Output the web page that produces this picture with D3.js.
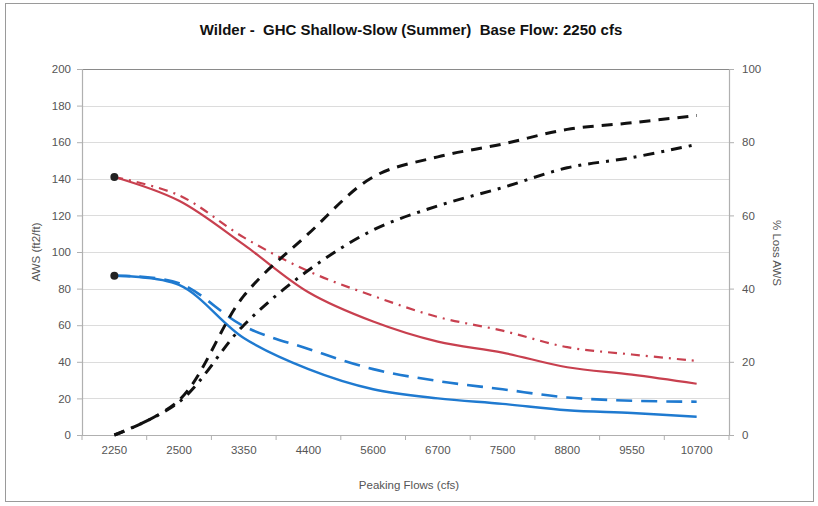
<!DOCTYPE html>
<html><head><meta charset="utf-8">
<script src="https://cdn.jsdelivr.net/npm/d3@7"></script>
<style>
html,body{margin:0;padding:0;background:#fff;}
svg{display:block;font-family:"Liberation Sans",Arial,sans-serif;}
</style></head>
<body><svg id="c" width="818" height="506"></svg>
<script>
const categories = ["2250","2500","3350","4400","5600","6700","7500","8800","9550","10700"];
const redSolid   = [141, 128, 104, 78, 62, 51, 45, 37, 33, 28];
const redDashDot = [141, 131, 108, 89.5, 76, 64.5, 57, 48, 44, 40.5];
const blueSolid  = [87, 82, 53, 36, 25, 20, 17, 13.5, 12, 10];
const blueDash   = [87, 83, 59.5, 47, 36, 29.5, 25, 20.5, 18.7, 18.2];
const lossDash    = [0, 9.5, 38, 55, 70.5, 76, 79.5, 83.5, 85.3, 87.3];
const lossDashDot = [0, 9, 30, 45, 56, 62.6, 67.6, 73, 75.8, 79.4];
const leftTicks = [0,20,40,60,80,100,120,140,160,180,200];
const rightTicks = [0,20,40,60,80,100];
const title = "Wilder -  GHC Shallow-Slow (Summer)  Base Flow: 2250 cfs";

const svg = d3.select("#c");
const L = 82, R = 729, T = 69, B = 435;

// outer frame
svg.append("rect").attr("x",5.5).attr("y",3.5).attr("width",808).attr("height",498)
  .attr("fill","none").attr("stroke","#9a9a9a").attr("stroke-width",1);

const x = d3.scaleBand().domain(categories).range([L,R]);
const yL = d3.scaleLinear().domain([0,200]).range([B,T]);
const yR = d3.scaleLinear().domain([0,100]).range([B,T]);

// gridlines
svg.append("g").selectAll("line").data(leftTicks.filter(d=>d>0 && d<200)).join("line")
  .attr("x1",L).attr("x2",R).attr("y1",d=>Math.round(yL(d))+0.5).attr("y2",d=>Math.round(yL(d))+0.5)
  .attr("stroke","#dcdcdc").attr("stroke-width",1.2);
// top border line
svg.append("line").attr("x1",L).attr("x2",R).attr("y1",Math.round(yL(200))+0.5).attr("y2",Math.round(yL(200))+0.5)
  .attr("stroke","#8a8a8a").attr("stroke-width",1.2);

// axes
const axL = d3.axisLeft(yL).tickValues(leftTicks).tickSize(5).tickPadding(6);
const gL = svg.append("g").attr("transform",`translate(${L},0)`).call(axL);
const axR = d3.axisRight(yR).tickValues(rightTicks).tickSize(5).tickPadding(8);
const gR = svg.append("g").attr("transform",`translate(${R},0)`).call(axR);
const axB = d3.axisBottom(x).tickSize(0).tickPadding(11);
const gB = svg.append("g").attr("transform",`translate(0,${B})`).call(axB);
// category boundary ticks
svg.append("g").selectAll("line").data(d3.range(categories.length+1)).join("line")
  .attr("x1",i=>L+i*x.step()).attr("x2",i=>L+i*x.step()).attr("y1",B).attr("y2",B+5)
  .attr("stroke","#b0b0b0");

[gL,gR,gB].forEach(g=>{
  g.selectAll(".domain").attr("stroke","#b0b0b0").attr("stroke-width",1.2);
  g.selectAll(".tick line").attr("stroke","#b0b0b0");
  g.selectAll("text").attr("font-size",11.5).attr("fill","#555").attr("font-family","'Liberation Sans',Arial,sans-serif");
});

// series
const cx = c => x(c) + x.bandwidth()/2;
function draw(vals, scale, color, width, dash){
  const line = d3.line().x((d,i)=>cx(categories[i])).y(d=>scale(d)).curve(d3.curveCatmullRom.alpha(0.5));
  svg.append("path").datum(vals).attr("d",line).attr("fill","none")
    .attr("stroke",color).attr("stroke-width",width)
    .attr("stroke-dasharray",dash||null).attr("stroke-linecap","butt");
}
draw(redDashDot, yL, "#c8404f", 2.2, "9,6,2,6");
draw(redSolid, yL, "#c8404f", 2.2);
draw(blueDash, yL, "#1f7ad0", 2.6, "16,9");
draw(blueSolid, yL, "#1f7ad0", 2.4);
draw(lossDash, yR, "#111", 3, "11,8");
draw(lossDashDot, yR, "#111", 3, "11,7,3,7");

// markers at base flow
svg.append("g").selectAll("circle").data([redSolid[0], blueSolid[0]]).join("circle")
  .attr("cx",cx(categories[0])).attr("cy",d=>yL(d)).attr("r",4).attr("fill","#222");

// titles
svg.append("text").attr("x",411).attr("y",35).attr("text-anchor","middle")
  .attr("font-size",15).attr("font-weight","bold").attr("fill","#111")
  .attr("xml:space","preserve").style("white-space","pre").text(title);
svg.append("text").attr("x",409).attr("y",489).attr("text-anchor","middle")
  .attr("font-size",11.5).attr("fill","#555").text("Peaking Flows (cfs)");
svg.append("text").attr("transform",`translate(40,252) rotate(-90)`).attr("text-anchor","middle")
  .attr("font-size",11.5).attr("fill","#555").text("AWS (ft2/ft)");
svg.append("text").attr("transform",`translate(773,253) rotate(90)`).attr("text-anchor","middle")
  .attr("font-size",11.5).attr("fill","#555").text("% Loss AWS");
</script></body></html>
